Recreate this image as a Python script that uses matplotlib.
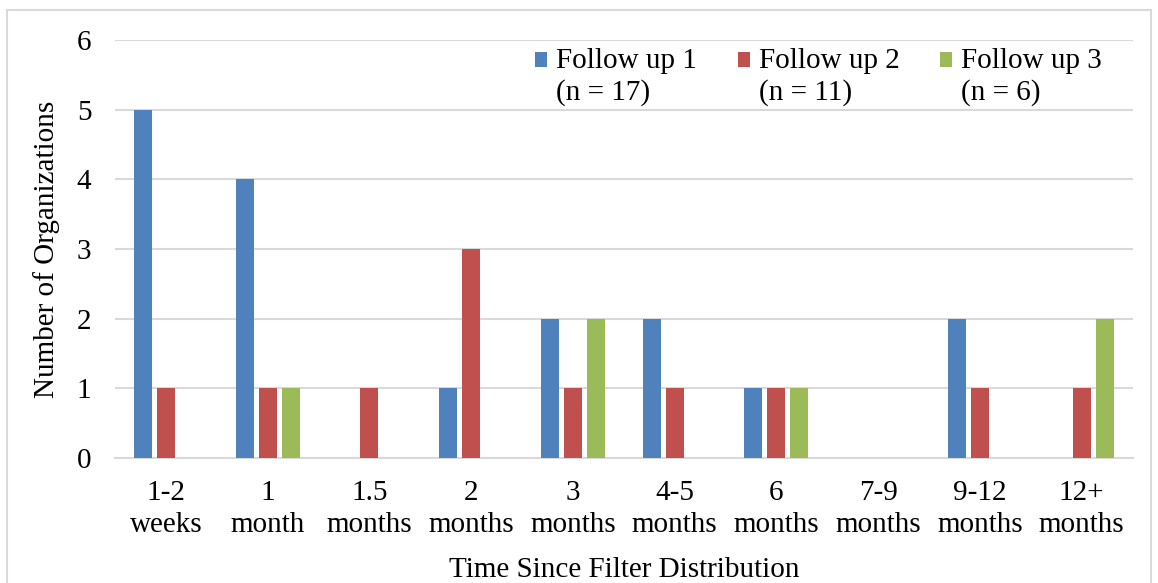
import matplotlib.pyplot as plt
import numpy as np
from matplotlib.patches import Rectangle
from matplotlib.container import BarContainer
from matplotlib.legend_handler import HandlerPatch, update_from_first_child

plt.rcParams['font.family'] = ['Liberation Serif', 'DejaVu Serif']

categories = ['1-2\nweeks', '1\nmonth', '1.5\nmonths', '2\nmonths', '3\nmonths',
              '4-5\nmonths', '6\nmonths', '7-9\nmonths', '9-12\nmonths', '12+\nmonths']
follow_up_1 = [5, 4, 0, 1, 2, 2, 1, 0, 2, 0]
follow_up_2 = [1, 1, 1, 3, 1, 1, 1, 0, 1, 1]
follow_up_3 = [0, 1, 0, 0, 2, 0, 1, 0, 0, 2]
series_labels = ['Follow up 1\n(n = 17)', 'Follow up 2\n(n = 11)', 'Follow up 3\n(n = 6)']
colors = ['#4f81bd', '#c0504d', '#9bbb59']
fs = 21

fig = plt.figure(figsize=(11.58, 5.83), dpi=100)
ax = fig.add_axes([0.0993, 0.2144, 0.8787, 0.717])

x = np.arange(len(categories))
w = 0.177
step = 0.226
for i, (vals, lab, col) in enumerate(zip([follow_up_1, follow_up_2, follow_up_3], series_labels, colors)):
    ax.bar(x + (i - 1) * step, vals, width=w, color=col, label=lab, zorder=3)

ax.set_xlim(-0.5, len(categories) - 0.5)
ax.set_ylim(0, 6)
ax.set_yticks(range(7))
ax.set_xticks(x)
ax.set_xticklabels(categories, fontsize=fs, linespacing=1.28)
ax.tick_params(axis='y', labelsize=fs, length=0, pad=17)
ax.tick_params(axis='x', length=0, pad=16)
ax.grid(axis='y', color='#d9d9d9', linewidth=1.5, zorder=0)
for s in ['top', 'right', 'left']:
    ax.spines[s].set_visible(False)
ax.spines['bottom'].set_color('#d9d9d9')
ax.spines['bottom'].set_linewidth(1.5)

ax.set_xlabel('Time Since Filter Distribution', fontsize=fs, labelpad=14)
ax.set_ylabel('Number of Organizations', fontsize=fs, labelpad=12)


# square legend key sitting next to the first line of a two-line label
def top_square(legend, orig_handle, xdescent, ydescent, width, height, fontsize):
    return Rectangle((-xdescent, -ydescent + 12), width, height)


leg = ax.legend(ncol=3, loc='upper right', bbox_to_anchor=(0.99, 1.03), frameon=False,
                fontsize=fs, handlelength=0.42, handleheight=0.42, handletextpad=0.3,
                columnspacing=1.4, labelspacing=0.2, borderpad=0.2,
                handler_map={BarContainer: HandlerPatch(patch_func=top_square,
                                                        update_func=update_from_first_child)})
for t in leg.get_texts():
    t.set_linespacing(1.25)

# light outer frame
fig.patches.append(Rectangle((0.006, -0.05), 0.988, 1.033, transform=fig.transFigure,
                             fill=False, edgecolor='#d9d9d9', linewidth=1.5))

fig.savefig('out.png', dpi=100)
